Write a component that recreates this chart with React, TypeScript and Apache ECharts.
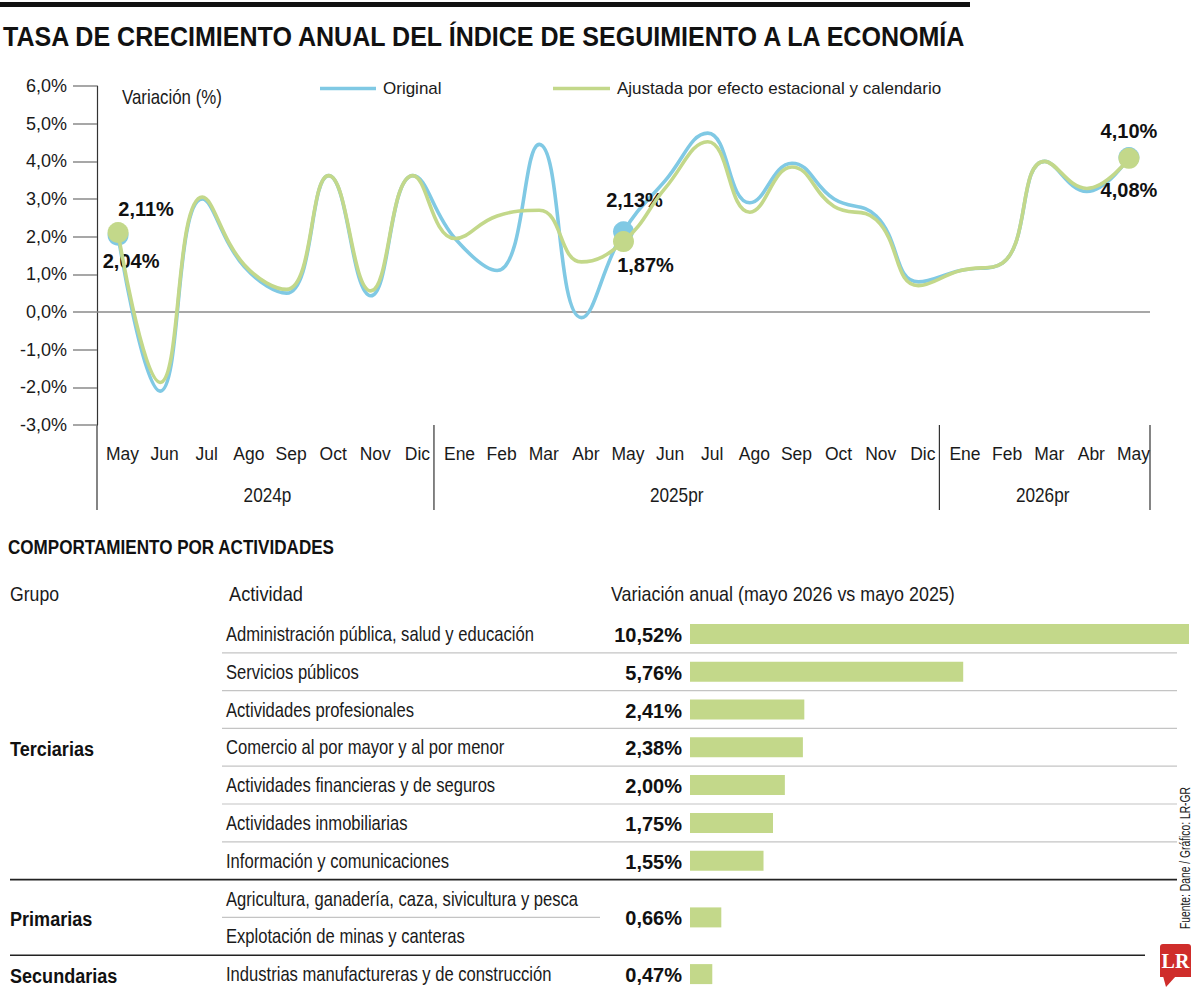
import React, { useEffect, useRef } from 'react';
import * as echarts from 'echarts';

const FONT = "'Liberation Sans', Arial, sans-serif";
const BLUE = '#80c9e4';
const GREEN = '#c3d88a';
const TEXT = '#1a1a1a';
const COND = 0.86;

// ---------- line chart data ----------
const monthLabels = ['May', 'Jun', 'Jul', 'Ago', 'Sep', 'Oct', 'Nov', 'Dic',
  'Ene', 'Feb', 'Mar', 'Abr', 'May', 'Jun', 'Jul', 'Ago', 'Sep', 'Oct', 'Nov', 'Dic',
  'Ene', 'Feb', 'Mar', 'Abr', 'May'];
const yearLabels = ['2024p', '2025pr', '2026pr'];
const yearStart = [0, 8, 20];
const yearEnd = [7, 19, 24];
const originalValues = [2.04, -2.1, 3.0, 1.2, 0.5, 3.62, 0.43, 3.62, 1.95, 1.1, 4.45, -0.15, 2.13,
  3.5, 4.75, 2.9, 3.95, 3.0, 2.55, 0.8, 1.1, 1.3, 4.0, 3.2, 4.10];
const adjustedValues = [2.11, -1.87, 3.05, 1.25, 0.6, 3.62, 0.56, 3.62, 1.95, 2.55, 2.7, 1.33, 1.87,
  3.3, 4.52, 2.65, 3.85, 2.8, 2.45, 0.7, 1.1, 1.3, 4.0, 3.28, 4.08];
const highlightIdx = [0, 12, 24];
const seriesNames = ['Original', 'Ajustada por efecto estacional y calendario'];

// ---------- table data ----------
const groupNames = ['Terciarias', 'Primarias', 'Secundarias'];
const groupFirstRow = [0, 7, 9];
const groupLastRow = [6, 8, 9];
const activities = [
  'Administración pública, salud y educación',
  'Servicios públicos',
  'Actividades profesionales',
  'Comercio al por mayor y al por menor',
  'Actividades financieras y de seguros',
  'Actividades inmobiliarias',
  'Información y comunicaciones',
  'Agricultura, ganadería, caza, sivicultura y pesca',
  'Explotación de minas y canteras',
  'Industrias manufactureras y de construcción',
];
const activityValues = [10.52, 5.76, 2.41, 2.38, 2.0, 1.75, 1.55, 0.66, 0.47];
const valueRowFrom = [0, 1, 2, 3, 4, 5, 6, 7, 9];
const valueRowTo = [0, 1, 2, 3, 4, 5, 6, 8, 9];

// label placement (style only)
const blueLabelOffsets = [[13, 26], [11, -32], [0, -27]];
const greenLabelOffsets = [[28, -24], [22, 23], [0, 32]];
const yearLabelShift = [2, -10, -2];

const fmt = (v: number, d: number) => v.toFixed(d).replace('.', ',') + '%';
const categories = monthLabels.map((m, i) => m + '|' + i);

let measureCtx: CanvasRenderingContext2D | null = null;
function measure(text: string, size: number, bold: boolean): number {
  if (!measureCtx) measureCtx = document.createElement('canvas').getContext('2d');
  if (!measureCtx) return text.length * size * 0.5;
  measureCtx.font = `${bold ? 'bold ' : ''}${size}px ${FONT}`;
  return measureCtx.measureText(text).width;
}

function txt(text: string, x: number, y: number, size: number, bold: boolean, opt: any = {}) {
  const natural = measure(text, size, bold);
  const scaleX = opt.w ? opt.w / natural : (opt.scale || COND);
  return {
    type: 'text', x, y, scaleX, rotation: opt.rotation || 0,
    style: {
      text, x: 0, y: 0, align: opt.align || 'left', verticalAlign: 'middle',
      fontFamily: FONT, fontWeight: bold ? 'bold' : 'normal', fontSize: size, fill: opt.fill || TEXT,
    },
  };
}

export default function App() {
  const ref = useRef<HTMLDivElement>(null);
  useEffect(() => {
    document.body.style.margin = '0';
    const chart = echarts.init(ref.current!, null, { renderer: 'svg' });
    const dotLabel = {
      show: true,
      position: 'inside',
      fontFamily: FONT,
      fontWeight: 'bold',
      fontSize: 20,
      color: '#111',
      formatter: (p: any) => fmt(p.value[1], 2),
    };
    const legendText = { fontSize: 17, color: TEXT, fontFamily: FONT, padding: [0, 0, 0, 2] };
    const option: any = {
      animation: false,
      backgroundColor: '#fff',
      textStyle: { fontFamily: FONT },
      legend: [
        {
          data: [seriesNames[0]], left: 320, top: 80, padding: 0, icon: 'rect', itemWidth: 56, itemHeight: 3.5,
          textStyle: legendText, selectedMode: false,
        },
        {
          data: [seriesNames[1]], left: 553, top: 80, padding: 0, icon: 'rect', itemWidth: 57, itemHeight: 3.5,
          textStyle: legendText, selectedMode: false,
        },
      ],
      grid: [
        { left: 97, top: 86, width: 1053, height: 339, containLabel: false },
        { left: 690, top: 615, width: 499, height: 379, containLabel: false },
      ],
      xAxis: [
        {
          gridIndex: 0, type: 'category', data: categories, boundaryGap: true,
          axisLine: { show: false }, axisTick: { show: false }, splitLine: { show: false },
          axisLabel: {
            interval: 0, margin: 20, fontSize: 17.5, color: TEXT, fontFamily: FONT,
            padding: [0, 0, 0, 9],
            formatter: (v: string) => v.split('|')[0],
          },
        },
        { gridIndex: 1, type: 'value', min: 0, max: 'dataMax', show: false },
      ],
      yAxis: [
        {
          gridIndex: 0, type: 'value', min: -3, max: 6, interval: 1,
          axisLine: { show: true, lineStyle: { color: '#333', width: 1.2 } },
          axisTick: { show: true, length: 24, lineStyle: { color: '#8a8a8a', width: 1.5 } },
          splitLine: { show: false },
          axisLabel: {
            margin: 30, fontSize: 18, color: TEXT, fontFamily: FONT,
            formatter: (v: number) => fmt(v, 1),
          },
        },
        {
          gridIndex: 1, type: 'category', data: activities, inverse: true,
          axisLine: { show: false }, axisTick: { show: false }, splitLine: { show: false },
          axisLabel: { show: false },
        },
      ],
      series: [
        {
          name: seriesNames[0], type: 'line', xAxisIndex: 0, yAxisIndex: 0,
          data: originalValues, smooth: 0.45, symbol: 'none', color: BLUE,
          lineStyle: { color: BLUE, width: 3.6 }, z: 3,
          markLine: {
            silent: true, symbol: ['none', 'none'], label: { show: false },
            lineStyle: { color: '#8a8a8a', width: 1.5, type: 'solid' },
            data: [{ yAxis: 0 }], z: 1,
          },
        },
        {
          type: 'scatter', xAxisIndex: 0, yAxisIndex: 0, symbolSize: 21, z: 4,
          itemStyle: { color: BLUE, opacity: 1 },
          data: highlightIdx.map((i, k) => ({
            value: [i, originalValues[i]],
            label: { ...dotLabel, offset: blueLabelOffsets[k] },
          })),
          label: dotLabel,
        },
        {
          name: seriesNames[1], type: 'line', xAxisIndex: 0, yAxisIndex: 0,
          data: adjustedValues, smooth: 0.45, symbol: 'none', color: GREEN,
          lineStyle: { color: GREEN, width: 3.6 }, z: 5,
        },
        {
          type: 'scatter', xAxisIndex: 0, yAxisIndex: 0, symbolSize: 21, z: 6,
          itemStyle: { color: GREEN, opacity: 1 },
          data: highlightIdx.map((i, k) => ({
            value: [i, adjustedValues[i]],
            label: { ...dotLabel, offset: greenLabelOffsets[k] },
          })),
          label: dotLabel,
        },
        {
          type: 'custom', xAxisIndex: 1, yAxisIndex: 1,
          data: activityValues.map((v, k) => [v, valueRowFrom[k], valueRowTo[k]]),
          encode: { x: 0, y: 1 },
          renderItem: (params: any, api: any) => {
            const v = api.value(0);
            const r0 = api.value(1);
            const r1 = api.value(2);
            const p0 = api.coord([0, r0]);
            const p1 = api.coord([0, r1]);
            const pe = api.coord([v, r0]);
            const yc = (p0[1] + p1[1]) / 2;
            const h = 20;
            return {
              type: 'group',
              children: [
                { type: 'rect', shape: { x: p0[0], y: yc - h / 2, width: pe[0] - p0[0], height: h }, style: { fill: GREEN } },
                {
                  type: 'text',
                  style: {
                    text: fmt(v, 2), x: p0[0] - 8, y: yc + 1, align: 'right', verticalAlign: 'middle',
                    fontFamily: FONT, fontWeight: 'bold', fontSize: 20, fill: '#111',
                  },
                },
              ],
            };
          },
        },
      ],
    };
    chart.setOption(option);

    // ---------- annotations positioned from the chart's own scales ----------
    const xPos = (i: number) => chart.convertToPixel({ xAxisIndex: 0 }, i) as number;
    const yPos = (v: number) => chart.convertToPixel({ yAxisIndex: 0 }, v) as number;
    const rowY = (r: number) => chart.convertToPixel({ yAxisIndex: 1 }, r) as number;
    const band = xPos(1) - xPos(0);
    const axisLeft = xPos(0) - band / 2;
    const axisBottom = yPos(-3);
    const sepBottom = 510;
    const els: any[] = [];
    els.push({ type: 'rect', shape: { x: 0, y: 2, width: 970, height: 5 }, style: { fill: '#111' } });
    els.push(txt('TASA DE CRECIMIENTO ANUAL DEL ÍNDICE DE SEGUIMIENTO A LA ECONOMÍA', 3, 37, 27, true, { w: 967, fill: '#111' }));
    els.push(txt('Variación (%)', 122, 97, 20, false, { w: 100 }));
    els.push({ type: 'line', shape: { x1: axisLeft, y1: axisBottom, x2: axisLeft, y2: sepBottom }, style: { stroke: '#333', lineWidth: 1.2 } });
    yearLabels.forEach((lab, g) => {
      const a = xPos(yearStart[g]);
      const b = xPos(yearEnd[g]);
      const right = b + band / 2;
      els.push({ type: 'line', shape: { x1: right, y1: axisBottom, x2: right, y2: sepBottom }, style: { stroke: '#333', lineWidth: 1.2 } });
      els.push(txt(lab, (a + b) / 2 + yearLabelShift[g], 495, 20, false, { align: 'center' }));
    });

    // table
    els.push(txt('COMPORTAMIENTO POR ACTIVIDADES', 8, 547, 21, true, { w: 327, fill: '#111' }));
    const headY = rowY(0) - (rowY(1) - rowY(0));
    els.push(txt('Grupo', 10, headY - 2, 20, false, { w: 49 }));
    els.push(txt('Actividad', 229, headY - 2, 20, false, { w: 74 }));
    els.push(txt('Variación anual (mayo 2026 vs mayo 2025)', 611, headY - 2, 20, false, { w: 344 }));
    activities.forEach((a, r) => {
      els.push(txt(a, 226, rowY(r), 20, false, { scale: 0.83 }));
    });
    groupNames.forEach((gname, g) => {
      const yc = (rowY(groupFirstRow[g]) + rowY(groupLastRow[g])) / 2;
      els.push(txt(gname, 10, yc + 1, 21, true, { fill: '#111' }));
      for (let r = groupFirstRow[g]; r < groupLastRow[g]; r++) {
        const y = (rowY(r) + rowY(r + 1)) / 2;
        const x2 = g === 0 ? 1177 : 600;
        els.push({ type: 'line', shape: { x1: 222, y1: y, x2, y2: y }, style: { stroke: '#c4c4c4', lineWidth: 1.2 } });
      }
      if (g < groupNames.length - 1) {
        const y = (rowY(groupLastRow[g]) + rowY(groupLastRow[g] + 1)) / 2;
        els.push({ type: 'line', shape: { x1: 10, y1: y, x2: g === 0 ? 1177 : 1145, y2: y }, style: { stroke: '#222', lineWidth: 1.6 } });
      }
    });

    // source + logo
    els.push(txt('Fuente: Dane / Gráfico: LR-GR', 1185, 858, 14, false, { w: 142, align: 'center', rotation: Math.PI / 2, fill: '#222' }));
    els.push({ type: 'rect', shape: { x: 1160, y: 944, width: 31, height: 33, r: [3, 3, 0, 0] }, style: { fill: '#cf2d2b' } });
    els.push({ type: 'polygon', shape: { points: [[1163, 976], [1176, 976], [1166, 987]] }, style: { fill: '#cf2d2b' } });
    els.push({
      type: 'text', style: {
        text: 'LR', x: 1175.5, y: 961, align: 'center', verticalAlign: 'middle',
        fontFamily: "'Liberation Serif', 'DejaVu Serif', serif", fontWeight: 'bold', fontSize: 20, fill: '#fff',
      },
    });
    chart.setOption({ graphic: { elements: els } });

    return () => chart.dispose();
  }, []);
  return <div ref={ref} style={{ width: 1200, height: 993 }} />;
}
